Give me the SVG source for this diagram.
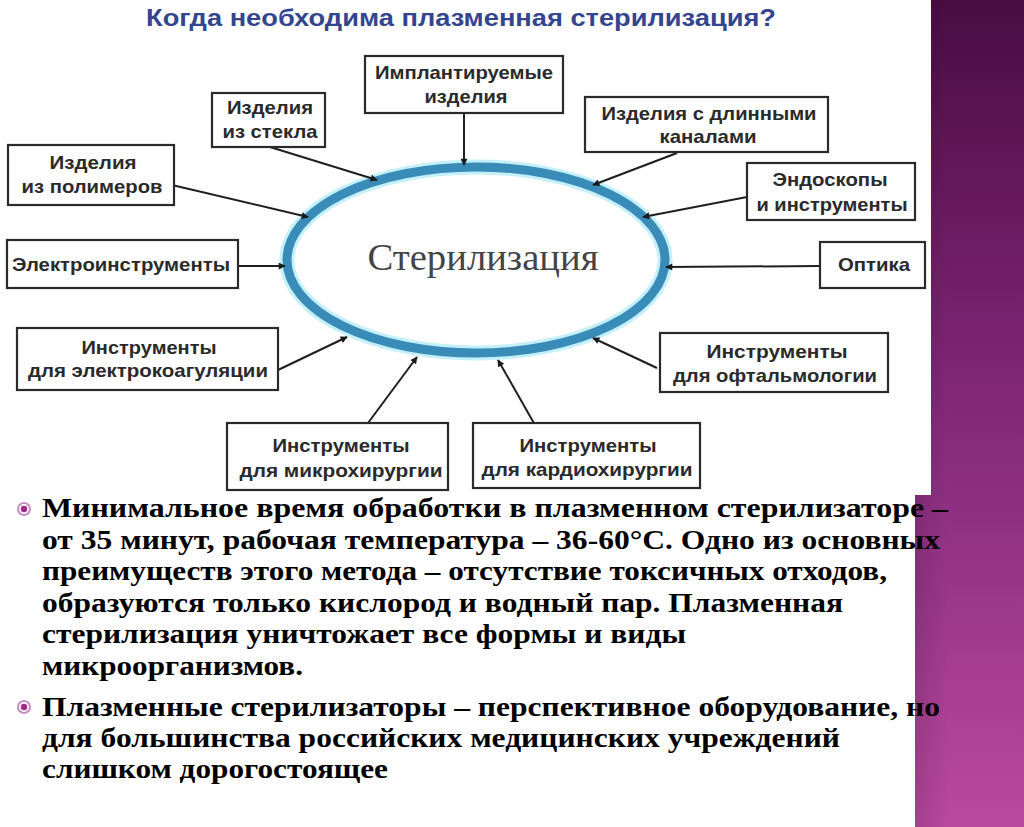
<svg xmlns="http://www.w3.org/2000/svg" width="1024" height="827" viewBox="0 0 1024 827">
<defs>
<linearGradient id="purp" x1="0" y1="0" x2="0" y2="1">
<stop offset="0" stop-color="#4a0c42"/>
<stop offset="0.5" stop-color="#84287a"/>
<stop offset="1" stop-color="#b9499f"/>
</linearGradient>
<linearGradient id="purpH" x1="0" y1="0" x2="1" y2="0">
<stop offset="0" stop-color="#000" stop-opacity="0.12"/>
<stop offset="0.3" stop-color="#000" stop-opacity="0"/>
</linearGradient>
<marker id="ah" viewBox="0 0 10 10" refX="9" refY="5" markerWidth="9" markerHeight="7" markerUnits="userSpaceOnUse" orient="auto">
<path d="M0,0 L10,5 L0,10 z" fill="#1a1a1a"/>
</marker>
<style>
.box{fill:#fff;stroke:#2a2a2a;stroke-width:2.2}
.lbl{font-family:"Liberation Sans",Arial,sans-serif;font-weight:bold;font-size:19px;fill:#2a2a2a;text-anchor:middle}
.body{font-family:"Liberation Serif","Times New Roman",serif;font-weight:bold;font-size:27px;fill:#000}
.con{stroke:#1f1f1f;stroke-width:2;fill:none;marker-end:url(#ah)}
</style>
</defs>
<rect width="1024" height="827" fill="#fff"/>
<g id="panel">
<rect x="915" y="0" width="109" height="827" fill="url(#purp)"/>
<rect x="915" y="0" width="109" height="827" fill="url(#purpH)"/>
<rect x="0" y="0" width="931" height="495" fill="#fff"/>
</g>
<g id="title">
<text x="146" y="26" font-family="'Liberation Sans',Arial,sans-serif" font-weight="bold" font-size="24" fill="#34458f" textLength="630" lengthAdjust="spacingAndGlyphs">Когда необходима плазменная стерилизация?</text>
</g>
<g id="center">
<ellipse cx="476" cy="260" rx="189" ry="93" fill="#fff" stroke="#c4f0fa" stroke-width="15"/>
<ellipse cx="476" cy="260" rx="189" ry="93" fill="none" stroke="#3a8cb8" stroke-width="9"/>
<text x="483" y="270" font-family="'Liberation Serif','Times New Roman',serif" font-size="37" fill="#444" text-anchor="middle" textLength="231" lengthAdjust="spacingAndGlyphs">Стерилизация</text>
</g>
<g id="connectors">
<line class="con" x1="464" y1="113" x2="464" y2="165"/>
<line class="con" x1="270" y1="147" x2="377" y2="180"/>
<line class="con" x1="172" y1="185" x2="308" y2="217"/>
<line class="con" x1="238" y1="266" x2="285" y2="266"/>
<line class="con" x1="677" y1="153" x2="593" y2="185"/>
<line class="con" x1="747" y1="197" x2="643" y2="217"/>
<line class="con" x1="820" y1="266" x2="666" y2="267"/>
<line class="con" x1="278" y1="370" x2="347" y2="337"/>
<line class="con" x1="368" y1="423" x2="417" y2="357"/>
<line class="con" x1="535" y1="425" x2="498" y2="360"/>
<line class="con" x1="657" y1="368" x2="593" y2="338"/>
</g>
<g id="n-implant">
<rect class="box" x="365" y="56" width="198" height="57"/>
<text class="lbl" x="464" y="79" textLength="178" lengthAdjust="spacingAndGlyphs">Имплантируемые</text>
<text class="lbl" x="466" y="103" textLength="83" lengthAdjust="spacingAndGlyphs">изделия</text>
</g>
<g id="n-glass">
<rect class="box" x="212" y="93" width="113" height="54"/>
<text class="lbl" x="270" y="114" textLength="86" lengthAdjust="spacingAndGlyphs">Изделия</text>
<text class="lbl" x="270" y="138" textLength="95" lengthAdjust="spacingAndGlyphs">из стекла</text>
</g>
<g id="n-polymer">
<rect class="box" x="8" y="145" width="166" height="60"/>
<text class="lbl" x="93" y="169" textLength="87" lengthAdjust="spacingAndGlyphs">Изделия</text>
<text class="lbl" x="92" y="193" textLength="141" lengthAdjust="spacingAndGlyphs">из полимеров</text>
</g>
<g id="n-electro">
<rect class="box" x="7" y="240" width="231" height="48"/>
<text class="lbl" x="121" y="271" textLength="218" lengthAdjust="spacingAndGlyphs">Электроинструменты</text>
</g>
<g id="n-channels">
<rect class="box" x="585" y="97" width="243" height="55"/>
<text class="lbl" x="709" y="120" textLength="215" lengthAdjust="spacingAndGlyphs">Изделия с длинными</text>
<text class="lbl" x="708" y="143" textLength="97" lengthAdjust="spacingAndGlyphs">каналами</text>
</g>
<g id="n-endo">
<rect class="box" x="747" y="163" width="168" height="57"/>
<text class="lbl" x="830" y="186" textLength="115" lengthAdjust="spacingAndGlyphs">Эндоскопы</text>
<text class="lbl" x="832" y="211" textLength="151" lengthAdjust="spacingAndGlyphs">и инструменты</text>
</g>
<g id="n-optics">
<rect class="box" x="820" y="242" width="105" height="46"/>
<text class="lbl" x="874" y="271" textLength="72" lengthAdjust="spacingAndGlyphs">Оптика</text>
</g>
<g id="n-coag">
<rect class="box" x="17" y="328" width="261" height="62"/>
<text class="lbl" x="149" y="354" textLength="135" lengthAdjust="spacingAndGlyphs">Инструменты</text>
<text class="lbl" x="148" y="377" textLength="240" lengthAdjust="spacingAndGlyphs">для электрокоагуляции</text>
</g>
<g id="n-micro">
<rect class="box" x="227" y="423" width="221" height="67"/>
<text class="lbl" x="341" y="452" textLength="137" lengthAdjust="spacingAndGlyphs">Инструменты</text>
<text class="lbl" x="341" y="477" textLength="203" lengthAdjust="spacingAndGlyphs">для микрохирургии</text>
</g>
<g id="n-cardio">
<rect class="box" x="473" y="423" width="227" height="65"/>
<text class="lbl" x="588" y="452" textLength="137" lengthAdjust="spacingAndGlyphs">Инструменты</text>
<text class="lbl" x="587" y="476" textLength="211" lengthAdjust="spacingAndGlyphs">для кардиохирургии</text>
</g>
<g id="n-ophth">
<rect class="box" x="660" y="333" width="228" height="59"/>
<text class="lbl" x="777" y="358" textLength="141" lengthAdjust="spacingAndGlyphs">Инструменты</text>
<text class="lbl" x="775" y="382" textLength="204" lengthAdjust="spacingAndGlyphs">для офтальмологии</text>
</g>
<g id="bullets">
<circle cx="24" cy="509" r="6" fill="#fff" stroke="#c48cc0" stroke-width="2"/>
<circle cx="24" cy="509" r="3.2" fill="#a02a8e"/>
<circle cx="24" cy="707" r="6" fill="#fff" stroke="#c48cc0" stroke-width="2"/>
<circle cx="24" cy="707" r="3.2" fill="#a02a8e"/>
<text class="body" x="42" y="517" textLength="906" lengthAdjust="spacingAndGlyphs">Минимальное время обработки в плазменном стерилизаторе –</text>
<text class="body" x="42" y="549" textLength="898" lengthAdjust="spacingAndGlyphs">от 35 минут, рабочая температура – 36-60°С. Одно из основных</text>
<text class="body" x="42" y="580" textLength="845" lengthAdjust="spacingAndGlyphs">преимуществ этого метода – отсутствие токсичных отходов,</text>
<text class="body" x="42" y="612" textLength="801" lengthAdjust="spacingAndGlyphs">образуются только кислород и водный пар. Плазменная</text>
<text class="body" x="42" y="643" textLength="644" lengthAdjust="spacingAndGlyphs">стерилизация уничтожает все формы и виды</text>
<text class="body" x="42" y="675" textLength="261" lengthAdjust="spacingAndGlyphs">микроорганизмов.</text>
<text class="body" x="42" y="716" textLength="898" lengthAdjust="spacingAndGlyphs">Плазменные стерилизаторы – перспективное оборудование, но</text>
<text class="body" x="42" y="747" textLength="798" lengthAdjust="spacingAndGlyphs">для большинства российских медицинских учреждений</text>
<text class="body" x="42" y="778" textLength="346" lengthAdjust="spacingAndGlyphs">слишком дорогостоящее</text>
</g>
</svg>
